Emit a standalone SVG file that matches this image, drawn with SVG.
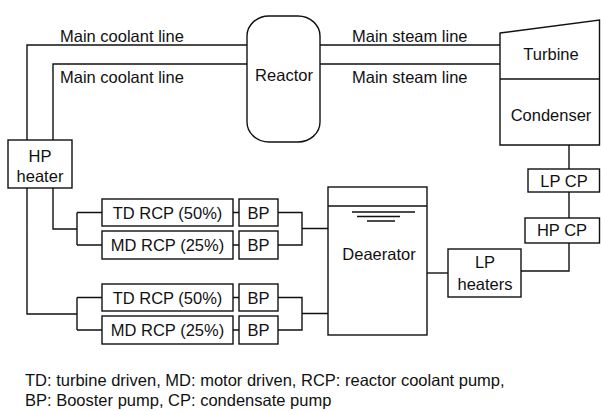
<svg xmlns="http://www.w3.org/2000/svg" width="601" height="411" viewBox="0 0 601 411">
<style>
.s{fill:none;stroke:#111;stroke-width:1.4}
.b{fill:#fff;stroke:#111;stroke-width:1.4}
.t{font-family:"Liberation Sans",Arial,sans-serif;font-size:16.5px;fill:#111}
.c{text-anchor:middle}
</style>
<rect width="601" height="411" fill="#fff"/>
<g id="connectors" class="s">
<path d="M247,45H27V140M247,64H53V140"/>
<path d="M320,45H500M320,64H500"/>
<path d="M27,188V314H77M53,188V229H77"/>
<path d="M77,212.5V245M77,212.5H102M77,245H102"/>
<path d="M77,297.5V330M77,297.5H102M77,330H102"/>
<path d="M233,212.5H239M233,245H239M233,297.5H239M233,330H239"/>
<path d="M278,212.5H302V245H278M302,228.5H328"/>
<path d="M278,297.5H302V330H278M302,313.5H328"/>
<path d="M427,273H448"/>
<path d="M521,271H569V243"/>
<path d="M569,218V192M569,169V145"/>
</g>
<g id="reactor"><rect class="b" x="247" y="16" width="73" height="126" rx="22" ry="20"/><text class="t c" x="284" y="81">Reactor</text></g>
<g id="turbine"><path class="b" d="M500,33L599.5,20V145H500Z"/><path class="s" d="M500,79H599.5"/><text class="t c" x="551" y="60">Turbine</text><text class="t c" x="551" y="121">Condenser</text></g>
<g id="lp-cp"><rect class="b" x="528" y="169" width="71.5" height="23"/><text class="t c" x="564" y="187">LP CP</text></g>
<g id="hp-cp"><rect class="b" x="525" y="218" width="74.5" height="25"/><text class="t c" x="562" y="236">HP CP</text></g>
<g id="lp-heaters"><rect class="b" x="448" y="249" width="73" height="48"/><text class="t c" x="485" y="268">LP</text><text class="t c" x="485" y="290">heaters</text></g>
<g id="deaerator"><rect class="b" x="328" y="187" width="99" height="148"/><path class="s" d="M328,206H427"/><path class="s" stroke-width="1" d="M352,212H415M357,216.5H400M367,221H395"/><text class="t c" x="379" y="260">Deaerator</text></g>
<g id="hp-heater"><rect class="b" x="8" y="140" width="64" height="48"/><text class="t c" x="40" y="162">HP</text><text class="t c" x="40" y="182">heater</text></g>
<g id="td-rcp-1"><rect class="b" x="102" y="199" width="131" height="27"/><text class="t c" x="167.5" y="218.5">TD RCP (50%)</text></g>
<g id="bp-1"><rect class="b" x="239" y="199" width="39" height="27"/><text class="t c" x="258.5" y="218.5">BP</text></g>
<g id="md-rcp-1"><rect class="b" x="102" y="231" width="131" height="28"/><text class="t c" x="167.5" y="251">MD RCP (25%)</text></g>
<g id="bp-2"><rect class="b" x="239" y="231" width="39" height="28"/><text class="t c" x="258.5" y="251">BP</text></g>
<g id="td-rcp-2"><rect class="b" x="102" y="284" width="131" height="27"/><text class="t c" x="167.5" y="303.5">TD RCP (50%)</text></g>
<g id="bp-3"><rect class="b" x="239" y="284" width="39" height="27"/><text class="t c" x="258.5" y="303.5">BP</text></g>
<g id="md-rcp-2"><rect class="b" x="102" y="316" width="131" height="28"/><text class="t c" x="167.5" y="336">MD RCP (25%)</text></g>
<g id="bp-4"><rect class="b" x="239" y="316" width="39" height="28"/><text class="t c" x="258.5" y="336">BP</text></g>
<g id="labels">
<text class="t" x="60" y="41.5">Main coolant line</text>
<text class="t" x="60" y="83">Main coolant line</text>
<text class="t" x="352" y="41.5">Main steam line</text>
<text class="t" x="352" y="83">Main steam line</text>
<text class="t" x="25" y="386">TD: turbine driven, MD: motor driven, RCP: reactor coolant pump,</text>
<text class="t" x="25" y="406">BP: Booster pump, CP: condensate pump</text>
</g>
</svg>
